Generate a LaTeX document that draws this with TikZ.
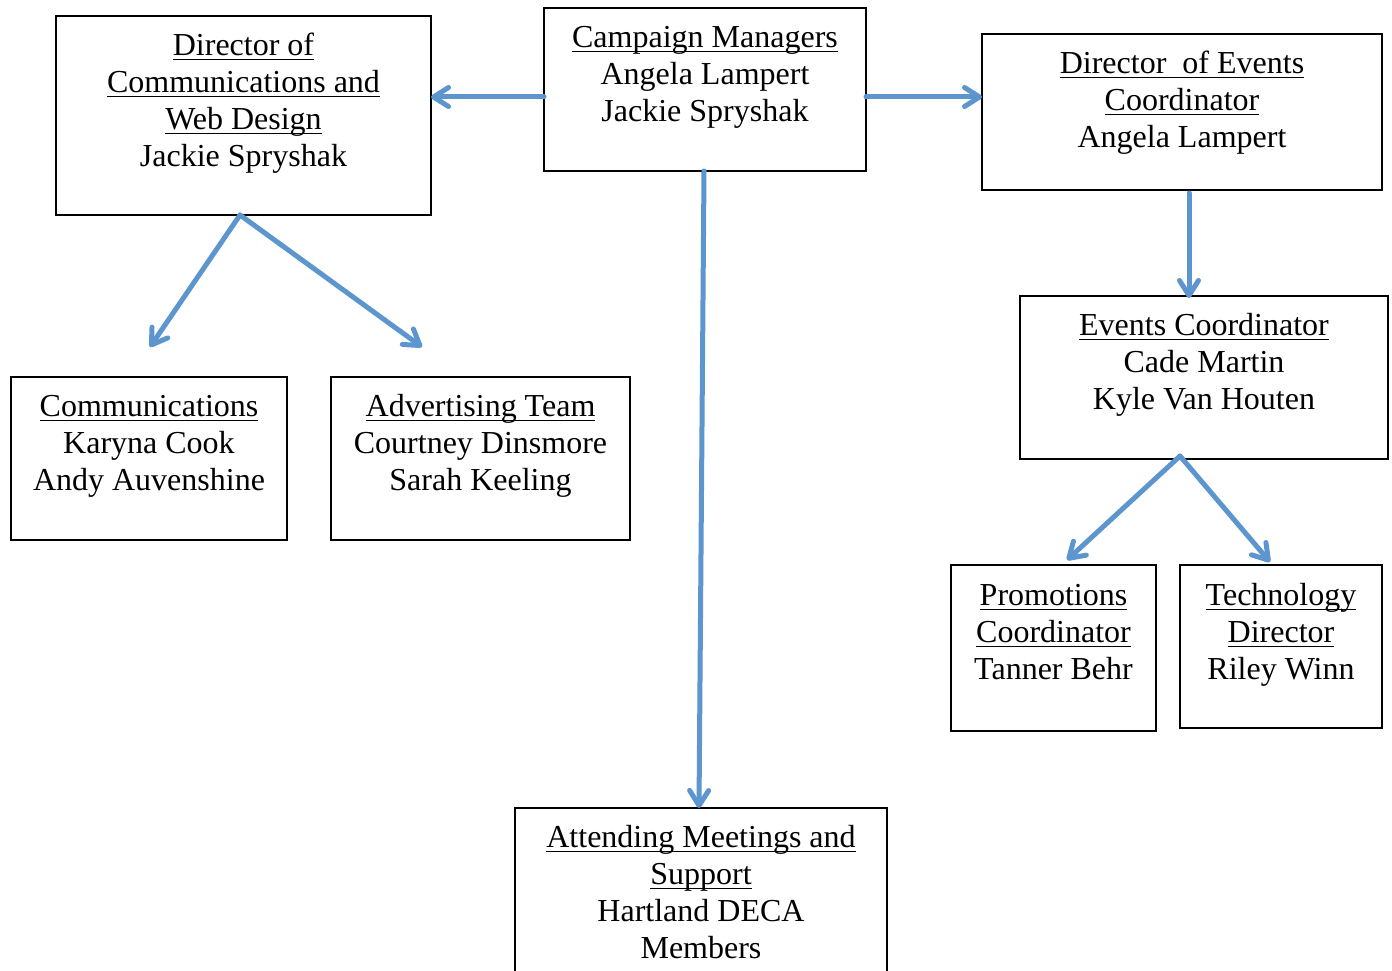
\documentclass[tikz,border=0pt]{standalone}
\usepackage{fontspec}
\setmainfont{Liberation Serif}
\usetikzlibrary{arrows.meta}
\definecolor{arrowblue}{HTML}{5D95CF}
\newsavebox\ulbox
\newcommand\ulx[1]{\sbox\ulbox{#1}\rlap{\rule[-5pt]{\wd\ulbox}{1.5pt}}\usebox\ulbox}
\tikzset{
  box/.style={draw=black, line width=1.5pt, rectangle, inner sep=0pt, outer sep=0pt},
  txt/.style={anchor=north, inner sep=0pt, align=center, font=\fontsize{32}{37}\selectfont},
  arr/.style={draw=arrowblue, line width=5pt, line cap=round, line join=round,
    -{Straight Barb[round, length=15pt, width=19pt]}},
}
\begin{document}
\begin{tikzpicture}[x=1pt, y=-1pt]
\path[use as bounding box, fill=white] (0,0) rectangle (1392,971);
\clip (0,0) rectangle (1392,971);

% boxes
\node[box, minimum width=322pt, minimum height=163pt] (camp) at (705,89.5) {};
\node[box, minimum width=375pt, minimum height=199pt] (dircomm) at (243.5,115.5) {};
\node[box, minimum width=400pt, minimum height=156pt] (direv) at (1182,112) {};
\node[box, minimum width=368pt, minimum height=163pt] (evco) at (1204,377.5) {};
\node[box, minimum width=276pt, minimum height=163pt] (comm) at (149,458.5) {};
\node[box, minimum width=299pt, minimum height=163pt] (adv) at (480.5,458.5) {};
\node[box, minimum width=205pt, minimum height=166pt] (promo) at (1053.5,648) {};
\node[box, minimum width=202pt, minimum height=163pt] (tech) at (1281,646.5) {};
\node[box, minimum width=372pt, minimum height=182pt] (attend) at (701,899) {};

% texts
\node[txt] (camp-t) at (705,21.1) {\strut\ulx{Campaign Managers}\\Angela Lampert\\Jackie Spryshak};
\node[txt] (dircomm-t) at (243.5,29.1) {\strut\ulx{Director of}\\\ulx{Communications and}\\\ulx{Web Design}\\Jackie Spryshak};
\node[txt] (direv-t) at (1182,47.1) {\strut\ulx{Director\ \ of Events}\\\ulx{Coordinator}\\Angela Lampert};
\node[txt] (evco-t) at (1204,309.1) {\strut\ulx{Events Coordinator}\\Cade Martin\\Kyle Van Houten};
\node[txt] (comm-t) at (149,390.1) {\strut\ulx{Communications}\\Karyna Cook\\Andy Auvenshine};
\node[txt] (adv-t) at (480.5,390.1) {\strut\ulx{Advertising Team}\\Courtney Dinsmore\\Sarah Keeling};
\node[txt] (promo-t) at (1053.5,579.1) {\strut\ulx{Promotions}\\\ulx{Coordinator}\\Tanner Behr};
\node[txt] (tech-t) at (1281,579.1) {\strut\ulx{Technology}\\\ulx{Director}\\Riley Winn};
\node[txt] (attend-t) at (701,821.1) {\strut\ulx{Attending Meetings and}\\\ulx{Support}\\Hartland DECA\\Members};

% free arrow ends
\coordinate (commend) at (150,347);
\coordinate (advend) at (422,347);
\coordinate (promoend) at (1067,560);
\coordinate (techend) at (1270,562);

% connectors
\draw[arr] ([yshift=-7.5pt]camp.west) -- ([yshift=18.5pt]dircomm.east);
\draw[arr] ([yshift=-7.5pt]camp.east) -- ([yshift=15pt]direv.west);
\draw[arr] ([xshift=-1pt]camp.south) -- ([xshift=-2pt]attend.north);
\draw[arr] ([xshift=-3.5pt]dircomm.south) -- (commend);
\draw[arr] ([xshift=-3.5pt]dircomm.south) -- (advend);
\draw[arr] ([xshift=7pt,yshift=-3pt]direv.south) -- ([xshift=-15pt,yshift=-2pt]evco.north);
\draw[arr] ([xshift=-24pt,yshift=3pt]evco.south) -- (promoend);
\draw[arr] ([xshift=-24pt,yshift=3pt]evco.south) -- (techend);
\end{tikzpicture}
\end{document}
